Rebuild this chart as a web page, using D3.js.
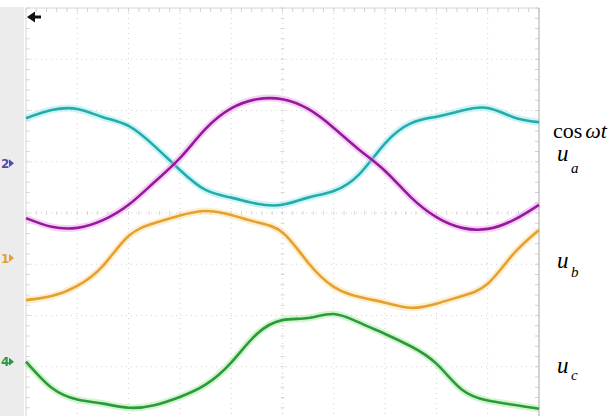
<!DOCTYPE html>
<html>
<head>
<meta charset="utf-8">
<script src="https://cdn.jsdelivr.net/npm/d3@7"></script>
<style>
  body { margin: 0; background: #fff; }
  svg { display: block; }
</style>
</head>
<body>
<div id="scope"></div>
<script>
// time in divisions (10 across the screen)
var timeDiv = [0, 0.5, 1, 1.5, 2, 2.5, 3, 3.5, 4, 4.5, 5, 5.5, 6, 6.5, 7, 7.5, 8, 8.5, 9, 9.5, 10];

// traces, in divisions from screen centre (positive up)
var cosWt = [1.85, 2.01, 2.03, 1.87, 1.70, 1.31, 0.84, 0.45, 0.30, 0.18, 0.16, 0.30, 0.43, 0.76, 1.36, 1.75, 1.88, 2.00, 2.05, 1.87, 1.77];
var uA = [-0.10, -0.27, -0.29, -0.14, 0.16, 0.60, 1.07, 1.64, 2.04, 2.22, 2.22, 2.03, 1.66, 1.23, 0.82, 0.31, -0.08, -0.29, -0.31, -0.14, 0.16];
var uB = [-1.70, -1.62, -1.42, -1.03, -0.45, -0.20, -0.05, 0.04, -0.04, -0.18, -0.38, -0.97, -1.44, -1.64, -1.75, -1.85, -1.77, -1.62, -1.38, -0.80, -0.33];
var uC = [-2.90, -3.41, -3.64, -3.72, -3.80, -3.75, -3.59, -3.35, -2.92, -2.36, -2.09, -2.05, -1.97, -2.14, -2.36, -2.60, -2.94, -3.45, -3.66, -3.74, -3.82];

// channel reference markers (division level)
var markerNames = ["2", "1", "4"];
var markerLevels = [0.97, -0.88, -2.9];

var width = 611, height = 416;

var svg = d3.select("#scope").append("svg")
    .attr("width", width)
    .attr("height", height);

var x = d3.scaleLinear().domain([0, 10]).range([26, 539]);
var y = d3.scaleLinear().domain([4, -4]).range([8, 418]);

// grey strip on the left
svg.append("rect")
    .attr("x", 0).attr("y", 7)
    .attr("width", x(0) - 2).attr("height", height - 7)
    .attr("fill", "#ececec");

// dotted grid
var grid = svg.append("g").attr("class", "grid");
d3.range(1, 10).forEach(function (i) {
    grid.append("line")
        .attr("x1", x(i)).attr("x2", x(i))
        .attr("y1", y(4)).attr("y2", height)
        .attr("stroke", "#d2d2d2")
        .attr("stroke-width", 1)
        .attr("stroke-dasharray", "1,4");
});
d3.range(-3, 4).forEach(function (j) {
    grid.append("line")
        .attr("x1", x(0)).attr("x2", x(10))
        .attr("y1", y(j)).attr("y2", y(j))
        .attr("stroke", "#d2d2d2")
        .attr("stroke-width", 1)
        .attr("stroke-dasharray", "1,4");
});

// minor ticks on the centre lines and the frame
var minorX = d3.range(0, 10.01, 0.2);
var minorY = d3.range(-4, 4.01, 0.2);
grid.selectAll(".tickh")
    .data(minorX)
    .enter().append("line")
    .attr("x1", function (d) { return x(d); })
    .attr("x2", function (d) { return x(d); })
    .attr("y1", y(0) - 2).attr("y2", y(0) + 2)
    .attr("stroke", "#d8d8d8");
grid.selectAll(".ticktop")
    .data(minorX)
    .enter().append("line")
    .attr("x1", function (d) { return x(d); })
    .attr("x2", function (d) { return x(d); })
    .attr("y1", y(4)).attr("y2", y(4) + 4)
    .attr("stroke", "#d0d0d0");
grid.selectAll(".tickv")
    .data(minorY)
    .enter().append("line")
    .attr("x1", x(5) - 2).attr("x2", x(5) + 2)
    .attr("y1", function (d) { return y(d); })
    .attr("y2", function (d) { return y(d); })
    .attr("stroke", "#d8d8d8");
grid.selectAll(".tickr")
    .data(minorY)
    .enter().append("line")
    .attr("x1", x(10) - 4).attr("x2", x(10))
    .attr("y1", function (d) { return y(d); })
    .attr("y2", function (d) { return y(d); })
    .attr("stroke", "#d0d0d0");
grid.selectAll(".tickl")
    .data(minorY)
    .enter().append("line")
    .attr("x1", x(0)).attr("x2", x(0) + 4)
    .attr("y1", function (d) { return y(d); })
    .attr("y2", function (d) { return y(d); })
    .attr("stroke", "#d8d8d8");

// frame
svg.append("line")
    .attr("x1", x(0)).attr("x2", x(10))
    .attr("y1", y(4)).attr("y2", y(4))
    .attr("stroke", "#d4d4d4");
svg.append("line")
    .attr("x1", x(0)).attr("x2", x(0))
    .attr("y1", y(4)).attr("y2", height)
    .attr("stroke", "#d4d4d4");
svg.append("line")
    .attr("x1", x(10)).attr("x2", x(10))
    .attr("y1", y(4)).attr("y2", height)
    .attr("stroke", "#c4c4c4")
    .attr("stroke-width", 1.5);

// traces
var traces = [
    {values: cosWt, color: "#26abab", glow: "#8fe6ea"},
    {values: uA, color: "#96199c", glow: "#e79be9"},
    {values: uB, color: "#e6a02e", glow: "#f9dc9a"},
    {values: uC, color: "#2c9a3a", glow: "#9ee79a"}
];

var line = d3.line()
    .x(function (d, i) { return x(timeDiv[i]); })
    .y(function (d) { return y(d); })
    .curve(d3.curveNatural);

traces.forEach(function (t) {
    svg.append("path")
        .attr("d", line(t.values))
        .attr("fill", "none")
        .attr("stroke", t.glow)
        .attr("stroke-width", 7)
        .attr("stroke-opacity", 0.45)
        .attr("stroke-linejoin", "round");
    svg.append("path")
        .attr("d", line(t.values))
        .attr("fill", "none")
        .attr("stroke", t.color)
        .attr("stroke-width", 2.6)
        .attr("stroke-linejoin", "round");
});

// trigger arrow at top-left
svg.append("path")
    .attr("d", "M27,17 L35,11.5 L35,15.5 L41,15.5 L41,18.5 L35,18.5 L35,22.5 Z")
    .attr("fill", "#111");

// channel markers
var markerColors = ["#5a48a8", "#e6a02e", "#2c9a3a"];
markerNames.forEach(function (name, i) {
    var yy = y(markerLevels[i]);
    svg.append("text")
        .attr("x", 1).attr("y", yy + 4.5)
        .attr("font-family", "DejaVu Sans, sans-serif")
        .attr("font-size", 12)
        .attr("font-weight", "bold")
        .attr("fill", markerColors[i])
        .text(name);
    svg.append("path")
        .attr("d", "M9," + (yy - 4) + " L14," + yy + " L9," + (yy + 4) + " Z")
        .attr("fill", markerColors[i]);
});

// labels on the right
var serif = "'Liberation Serif', 'Times New Roman', Times, serif";
var cosLabel = svg.append("text")
    .attr("x", 553).attr("y", 138)
    .style("font-family", serif)
    .style("font-size", "22px");
cosLabel.append("tspan").text("cos");
cosLabel.append("tspan").style("font-style", "italic").attr("dx", 3).text("ωt");

var subLabels = [
    {sub: "a", y: 161, sy: 173},
    {sub: "b", y: 268, sy: 277},
    {sub: "c", y: 373, sy: 380}
];
subLabels.forEach(function (l) {
    svg.append("text")
        .attr("x", 557).attr("y", l.y)
        .style("font-family", serif)
        .style("font-style", "italic")
        .style("font-size", "23px")
        .text("u");
    svg.append("text")
        .attr("x", 571).attr("y", l.sy)
        .style("font-family", serif)
        .style("font-style", "italic")
        .style("font-size", "15px")
        .text(l.sub);
});
</script>
</body>
</html>
